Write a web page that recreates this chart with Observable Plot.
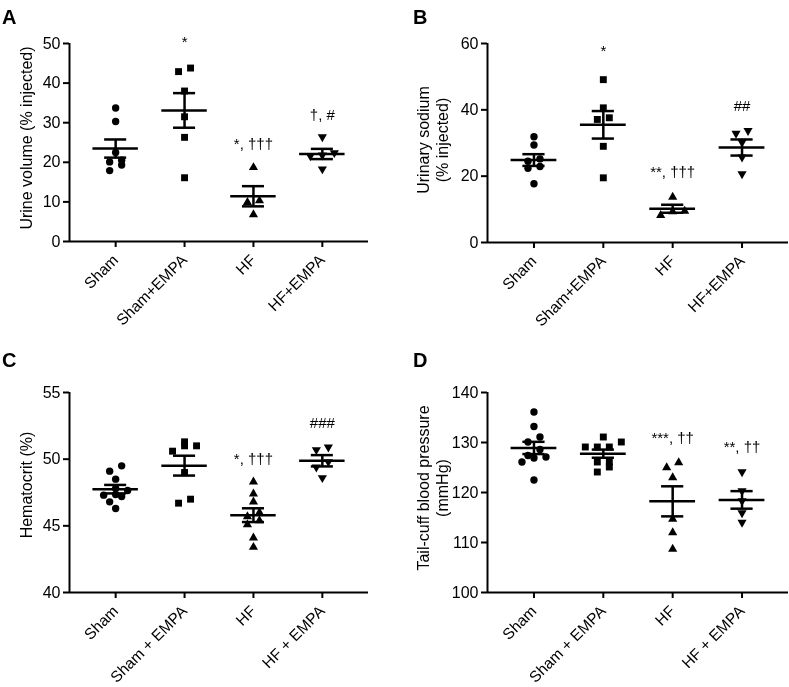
<!DOCTYPE html>
<html><head><meta charset="utf-8">
<script src="https://cdn.jsdelivr.net/npm/d3@7"></script>
<script src="https://cdn.jsdelivr.net/npm/@observablehq/plot@0.6"></script>
<style>
html,body{margin:0;background:#fff;font-family:"Liberation Sans",Arial,sans-serif;color:#000;}
#wrap{position:relative;width:789px;height:687px;overflow:hidden;will-change:transform;}
.panel{position:absolute;}
.letter{position:absolute;font-weight:bold;font-size:20px;line-height:1;}
.ylab{position:absolute;font-size:16px;text-align:center;line-height:19px;transform:translate(-50%,-50%) rotate(-90deg);white-space:nowrap;}
</style></head>
<body><div id="wrap"></div>
<script>
// ---- categories ----
const groupsAB = ["Sham", "Sham+EMPA", "HF", "HF+EMPA"];
const groupsCD = ["Sham", "Sham + EMPA", "HF", "HF + EMPA"];

// ---- A: Urine volume (% injected) ----
const urineSham = [33.7, 30.3, 22.5, 20.1, 20.5, 17.9, 19.3];
const urineShamEmpa = [42.9, 43.8, 38.0, 31.5, 26.3, 16.1];
const urineHF = [18.7, 10.3, 9.9, 6.8];
const urineHFEmpa = [26.4, 22.4, 21.6, 21.8, 18.3];
const urineTicks = [0, 10, 20, 30, 40, 50];
const urineAnnot = ["", "*", "*, \u2020\u2020\u2020", "\u2020, #"];
const urineAnnotY = [null, 50.3, 24.6, 31.8];

// ---- B: Urinary sodium (% injected) ----
const sodiumSham = [31.9, 29.4, 25.2, 24.5, 22.9, 22.4, 17.7];
const sodiumShamEmpa = [49.1, 40.6, 37.1, 37.6, 29.0, 19.5];
const sodiumHF = [13.7, 9.5, 9.3, 8.2];
const sodiumHFEmpa = [33.7, 32.9, 30.2, 25.7, 20.7];
const sodiumTicks = [0, 20, 40, 60];
const sodiumAnnot = ["", "*", "**, \u2020\u2020\u2020", "##"];
const sodiumAnnotY = [null, 57.6, 21.2, 41.0];

// ---- C: Hematocrit (%) ----
const hctSham = [49.5, 49.1, 48.5, 47.65, 47.8, 47.3, 47.2, 47.35, 46.8, 46.3];
const hctShamEmpa = [51.0, 50.6, 51.0, 51.3, 49.0, 46.7, 47.0];
const hctHF = [48.3, 47.4, 46.8, 46.0, 45.7, 45.4, 45.1, 44.1, 43.4];
const hctHFEmpa = [50.7, 50.9, 49.8, 49.4, 48.6];
const hctTicks = [40, 45, 50, 55];
const hctAnnot = ["", "", "*, \u2020\u2020\u2020", "###"];
const hctAnnotY = [null, null, 50.0, 52.7];

// ---- D: Tail-cuff blood pressure (mmHg) ----
const bpSham = [136.1, 133.2, 131.1, 130.1, 128.6, 127.4, 127.1, 126.9, 126.1, 122.5];
const bpShamEmpa = [130.1, 129.1, 129.1, 129.1, 131.1, 126.1, 126.1, 124.1, 125.1];
const bpHF = [125.0, 126.0, 123.0, 114.7, 112.0, 108.7];
const bpHFEmpa = [124.1, 120.3, 118.3, 115.9, 114.0];
const bpTicks = [100, 110, 120, 130, 140];
const bpAnnot = ["", "", "***, \u2020\u2020", "**, \u2020\u2020"];
const bpAnnotY = [null, null, 130.8, 129.0];

// ---- symbols ----
const sqrt3 = Math.sqrt(3);
const triangleDown = {
  draw(context, size) {
    const y = Math.sqrt(size / (sqrt3 * 3));
    context.moveTo(0, y * 2);
    context.lineTo(-sqrt3 * y, -y);
    context.lineTo(sqrt3 * y, -y);
    context.closePath();
  }
};
const symbols = ["circle", "square", "triangle", triangleDown];
const radii = [3.7, 3.9, 3.4, 3.4];

const XPAD = 0.67;
const ROW_PX = 6;
const SPACING_PX = 12;

function swarmOffsets(vals, pxPerUnitY) {
  const idx = vals.map((v, i) => i).sort((a, b) => vals[a] - vals[b]);
  const rows = [];
  let cur = null;
  for (const i of idx) {
    if (cur && (vals[i] - vals[cur[0]]) * pxPerUnitY < ROW_PX) cur.push(i);
    else { cur = [i]; rows.push(cur); }
  }
  const off = new Array(vals.length).fill(0);
  for (const r of rows) r.forEach((i, k) => off[i] = (k - (r.length - 1) / 2) * SPACING_PX);
  return off;
}

function makePanel(cfg) {
  const {series, groups, yDomain, yTicks, annot, annotY, width, height, marginLeft, marginRight, marginTop, marginBottom} = cfg;
  const plotW = width - marginLeft - marginRight;
  const plotH = height - marginTop - marginBottom;
  const pxX = plotW / (3 + 2 * XPAD);
  const pxY = plotH / (yDomain[1] - yDomain[0]);
  const points = [];
  const stats = [];
  series.forEach((vals, g) => {
    const off = swarmOffsets(vals, pxY);
    vals.forEach((v, j) => points.push({g, x: g + off[j] / pxX, y: v}));
    const m = d3.mean(vals);
    const sem = d3.deviation(vals) / Math.sqrt(vals.length);
    stats.push({g, mean: m, lo: m - sem, hi: m + sem});
  });
  const notes = annot.map((t, g) => ({g, t, y: annotY[g]})).filter(d => d.t);
  const dotMarks = symbols.map((s, g) => Plot.dot(points.filter(p => p.g === g), {
    x: "x", y: "y", symbol: s, r: radii[g], fill: "black", stroke: "none"
  }));
  return Plot.plot({
    width, height, marginLeft, marginRight, marginTop, marginBottom,
    style: {fontFamily: "'Liberation Sans', Arial, sans-serif", background: "transparent", color: "black"},
    x: {domain: [-XPAD, 3 + XPAD]},
    y: {domain: yDomain},
    marks: [
      Plot.axisY({ticks: yTicks, tickSize: 6, tickPadding: 3, fontSize: 16, strokeWidth: 2, label: null}),
      Plot.axisX({ticks: [0, 1, 2, 3], tickFormat: i => groups[i], tickRotate: -45, tickSize: 6, tickPadding: 10, fontSize: 15.5, strokeWidth: 2, label: null}),
      Plot.ruleY([yDomain[0]], {strokeWidth: 2}),
      Plot.ruleX([-XPAD], {strokeWidth: 2}),
      ...dotMarks,
      Plot.ruleY(stats, {y: "mean", x1: d => d.g - 0.33, x2: d => d.g + 0.33, strokeWidth: 2.5}),
      Plot.ruleY(stats, {y: "hi", x1: d => d.g - 0.16, x2: d => d.g + 0.16, strokeWidth: 2.5}),
      Plot.ruleY(stats, {y: "lo", x1: d => d.g - 0.16, x2: d => d.g + 0.16, strokeWidth: 2.5}),
      Plot.ruleX(stats, {x: "g", y1: "lo", y2: "hi", strokeWidth: 2.5}),
      Plot.text(notes, {x: "g", y: "y", text: "t", fontSize: 15, fill: "black"})
    ]
  });
}

const wrap = document.getElementById("wrap");
function place(el, left, top) {
  el.classList.add("panel");
  el.style.left = left + "px";
  el.style.top = top + "px";
  wrap.appendChild(el);
}
function addDiv(cls, html, left, top) {
  const d = document.createElement("div");
  d.className = cls;
  d.innerHTML = html;
  d.style.left = left + "px";
  d.style.top = top + "px";
  wrap.appendChild(d);
}

place(makePanel({series: [urineSham, urineShamEmpa, urineHF, urineHFEmpa], groups: groupsAB,
  yDomain: [0, 50], yTicks: urineTicks, annot: urineAnnot, annotY: urineAnnotY,
  width: 390, height: 340, marginLeft: 69, marginRight: 22, marginTop: 43, marginBottom: 99}), 0, 0);
place(makePanel({series: [sodiumSham, sodiumShamEmpa, sodiumHF, sodiumHFEmpa], groups: groupsAB,
  yDomain: [0, 60], yTicks: sodiumTicks, annot: sodiumAnnot, annotY: sodiumAnnotY,
  width: 399, height: 340, marginLeft: 97, marginRight: 1, marginTop: 43, marginBottom: 98}), 390, 0);
place(makePanel({series: [hctSham, hctShamEmpa, hctHF, hctHFEmpa], groups: groupsCD,
  yDomain: [40, 55], yTicks: hctTicks, annot: hctAnnot, annotY: hctAnnotY,
  width: 390, height: 337, marginLeft: 69, marginRight: 22, marginTop: 42, marginBottom: 95}), 0, 350);
place(makePanel({series: [bpSham, bpShamEmpa, bpHF, bpHFEmpa], groups: groupsCD,
  yDomain: [100, 140], yTicks: bpTicks, annot: bpAnnot, annotY: bpAnnotY,
  width: 399, height: 337, marginLeft: 97, marginRight: 1, marginTop: 42, marginBottom: 95}), 390, 350);

addDiv("letter", "A", 2, 7);
addDiv("letter", "B", 413, 7);
addDiv("letter", "C", 2, 350);
addDiv("letter", "D", 413, 350);
addDiv("ylab", "Urine volume (% injected)", 26, 138);
addDiv("ylab", "Urinary sodium<br>(% injected)", 433, 140);
addDiv("ylab", "Hematocrit (%)", 26, 485);
addDiv("ylab", "Tail-cuff blood pressure<br>(mmHg)", 433, 488);
</script>
</body></html>
